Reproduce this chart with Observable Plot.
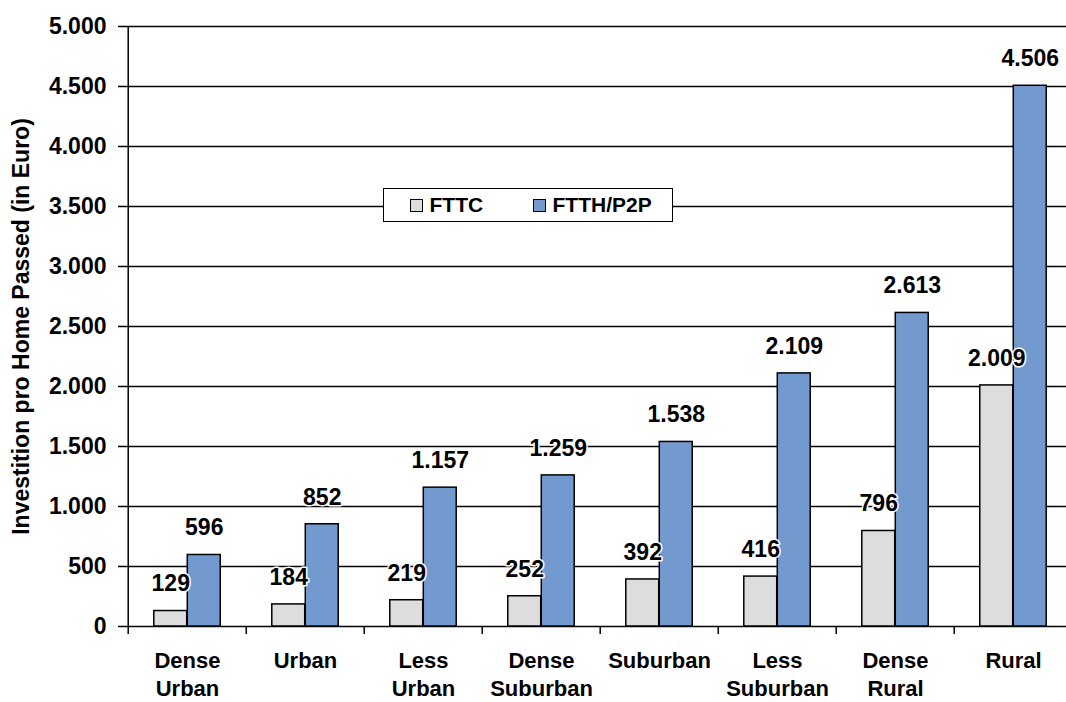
<!DOCTYPE html>
<html><head><meta charset="utf-8">
<script src="https://cdn.jsdelivr.net/npm/d3@7"></script>
<script src="https://cdn.jsdelivr.net/npm/@observablehq/plot@0.6"></script>
<style>
html,body{margin:0;padding:0;background:#fff;}
#wrap{position:relative;width:1066px;height:702px;overflow:hidden;font-family:"Liberation Sans",Arial,sans-serif;}
.legend{position:absolute;left:383px;top:188px;width:290px;height:34px;box-sizing:border-box;border:1.5px solid #000;background:#fff;}
.sw{position:absolute;top:9.5px;width:13px;height:13px;box-sizing:border-box;border:1px solid #000;}
.lt{position:absolute;top:3.5px;font-weight:bold;font-size:21px;line-height:24px;color:#000;}
</style></head>
<body><div id="wrap"></div>
<script>
const categories = ["Dense Urban","Urban","Less Urban","Dense Suburban","Suburban","Less Suburban","Dense Rural","Rural"];
const series = ["FTTC","FTTH/P2P"];
const fttc = [129,184,219,252,392,416,796,2009];
const ftth = [596,852,1157,1259,1538,2109,2613,4506];
const yTicks = [0,500,1000,1500,2000,2500,3000,3500,4000,4500,5000];
const colors = ["#DDDDDD","#739ACE"];
const yTitle = "Investition pro Home Passed (in Euro)";

const rows = categories.flatMap((c,i)=>[
  {cat:c, series:series[0], value:fttc[i]},
  {cat:c, series:series[1], value:ftth[i]}
]);
const fmt = d => d3.format(",")(d).replace(/,/g,".");

const W = 1066, H = 702, mL = 126, mT = 26, mB = 76;
const step = 118.57, barW = 33.5, gap = (step - 2*barW)/2;

const chart = Plot.plot({
  width: W, height: H,
  marginLeft: mL, marginRight: 0, marginTop: mT, marginBottom: mB,
  style: {fontFamily: '"Liberation Sans", Arial, sans-serif', fontWeight: "bold", color: "#000", background: "#fff", overflow: "visible"},
  x: {type: "band", domain: categories, range: [mL, mL + categories.length*step], padding: 0},
  y: {domain: [0, 5000]},
  marks: [
    Plot.ruleY(yTicks, {y: d=>d, stroke: "#000", strokeWidth: 1.5}),
    Plot.barY(rows.filter(d=>d.series===series[0]), {x: "cat", y: "value", fill: colors[0], stroke: "#000", strokeWidth: 1.5, insetLeft: gap, insetRight: step-gap-barW}),
    Plot.barY(rows.filter(d=>d.series===series[1]), {x: "cat", y: "value", fill: colors[1], stroke: "#000", strokeWidth: 1.5, insetLeft: gap+barW, insetRight: gap}),
    Plot.ruleX([categories[0]], {x: d=>d, dx: -step/2, y1: 0, y2: 5000, stroke: "#000", strokeWidth: 1.5}),
    Plot.ruleX(categories, {x: d=>d, dx: -step/2, y1: 0, y2: 0, insetTop: 8, stroke: "#000", strokeWidth: 1.5}),
    Plot.axisY({ticks: yTicks, tickSize: 8, tickPadding: 12, tickFormat: fmt, fontSize: 23, fontWeight: "bold", label: null, strokeWidth: 1.5}),
    Plot.axisX({tickSize: 0, tickPadding: 22, tickFormat: d=>d.replace(" ","\n"), fontSize: 22, fontWeight: "bold", lineHeight: 1.27, label: null}),
    Plot.text(rows.filter(d=>d.series===series[0]), {x: "cat", y: "value", text: d=>fmt(d.value), dx: -barW/2, dy: -27, lineAnchor: "middle", fontSize: 23, fontWeight: "bold", fill: "#000", stroke: "#fff", strokeWidth: 3, paintOrder: "stroke"}),
    Plot.text(rows.filter(d=>d.series===series[1]), {x: "cat", y: "value", text: d=>fmt(d.value), dx: barW/2, dy: -27, lineAnchor: "middle", fontSize: 23, fontWeight: "bold", fill: "#000", stroke: "#fff", strokeWidth: 3, paintOrder: "stroke"}),
    Plot.text([yTitle], {frameAnchor: "left", dx: -105, rotate: -90, text: d=>d, textAnchor: "middle", lineAnchor: "middle", fontSize: 23, fontWeight: "bold", fill: "#000"})
  ]
});
const wrap = document.getElementById("wrap");
wrap.appendChild(chart);

const legend = document.createElement("div");
legend.className = "legend";
const swLeft = [25.5, 148.5], txLeft = [45.5, 168.5];
series.forEach((s,i)=>{
  const sw = document.createElement("div");
  sw.className = "sw"; sw.style.left = swLeft[i]+"px"; sw.style.background = colors[i];
  const t = document.createElement("div");
  t.className = "lt"; t.style.left = txLeft[i]+"px"; t.textContent = s;
  legend.appendChild(sw); legend.appendChild(t);
});
wrap.appendChild(legend);
</script>
</body></html>
